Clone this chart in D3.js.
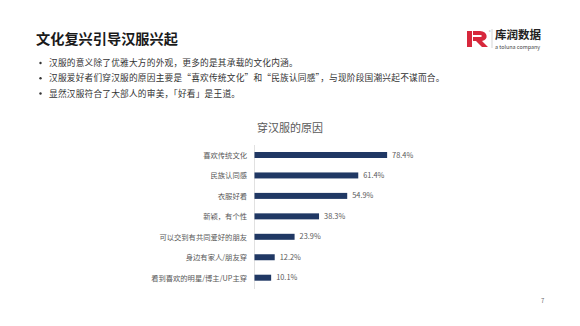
<!DOCTYPE html>
<html><head><meta charset="utf-8">
<script src="https://cdn.jsdelivr.net/npm/d3@7"></script>
<style>
html,body{margin:0;padding:0;background:#fff;}
svg{display:block;font-family:"Noto Sans CJK SC","Noto Sans",sans-serif;}
</style></head>
<body>
<svg id="c" width="580" height="326"></svg>
<script>
const pageTitle = "文化复兴引导汉服兴起";
const bullets = [
  "汉服的意义除了优雅大方的外观，更多的是其承载的文化内涵。",
  "汉服爱好者们穿汉服的原因主要是“喜欢传统文化”和“民族认同感”，与现阶段国潮兴起不谋而合。",
  "显然汉服符合了大部人的审美，「好看」是王道。"
];
const chartTitle = "穿汉服的原因";
const categories = ["喜欢传统文化","民族认同感","衣服好看","新颖，有个性","可以交到有共同爱好的朋友","身边有家人/朋友穿","看到喜欢的明星/博主/UP主穿"];
const values = [78.4, 61.4, 54.9, 38.3, 23.9, 12.2, 10.1];

const svg = d3.select("#c");

// page title
svg.append("text").attr("x",36).attr("y",43.5).attr("font-size",14.2).attr("font-weight",700)
  .attr("fill","#1a1a1a").text(pageTitle);

// bullets
const by = d3.scalePoint().domain(d3.range(bullets.length)).range([63,93.5]);
bullets.forEach((b,i)=>{
  svg.append("circle").attr("cx",40.5).attr("cy",by(i)).attr("r",1.2).attr("fill","#333");
  svg.append("text").attr("x",49).attr("y",by(i)).attr("dy","0.35em").attr("font-size",8.7)
    .attr("letter-spacing",0.2).attr("fill","#333").text(b);
});

// logo
const lg = svg.append("g");
lg.append("path").attr("d","M467,31 L472,31 L472,47 L467,47 Z").attr("fill","#d7283c");
lg.append("path").attr("d","M473,31 L480,31 C488,31 489,40 482,41 L488,47 L482,47 L476,41 L473,41 L473,37 L479,37 C483,37 483,35 479,35 L473,35 Z").attr("fill","#d7283c");
lg.append("text").attr("x",489).attr("y",33).attr("font-size",3).attr("fill","#999").text("®");
lg.append("line").attr("x1",492).attr("x2",492).attr("y1",29).attr("y2",48).attr("stroke","#bbb").attr("stroke-width",0.6);
lg.append("text").attr("x",495).attr("y",39).attr("font-size",11.5).attr("font-weight",700).attr("fill","#222").text("库润数据");
lg.append("text").attr("x",495).attr("y",48.5).attr("font-size",5.4).attr("fill","#444").text("a toluna company");

// chart title
svg.append("text").attr("x",290).attr("y",128).attr("dy","0.35em").attr("text-anchor","middle")
  .attr("font-size",11).attr("fill","#595959").text(chartTitle);

// scales
const x = d3.scaleLinear().domain([0,100]).range([254,423.8]);
const y = d3.scalePoint().domain(categories).range([155,277.7]);
const bh = 6;

svg.append("g").attr("transform","translate(254,0)")
  .call(d3.axisLeft(y).tickSize(0).tickPadding(7))
  .call(g=>{
    g.select(".domain").remove();
    g.selectAll("text").attr("font-size",7.3).attr("fill","#595959").attr("font-family","Noto Sans CJK SC");
  });
svg.append("line").attr("x1",254.5).attr("x2",254.5).attr("y1",145).attr("y2",289)
  .attr("stroke","#d9d9d9").attr("stroke-width",0.8);

svg.selectAll("rect.bar").data(values).enter().append("rect").attr("class","bar")
  .attr("x",x(0)+0.5).attr("y",(d,i)=>y(categories[i])-bh/2)
  .attr("width",d=>x(d)-x(0)-0.5).attr("height",bh).attr("fill","#203864");

svg.selectAll("text.val").data(values).enter().append("text").attr("class","val")
  .attr("x",d=>x(d)+5).attr("y",(d,i)=>y(categories[i])).attr("dy","0.35em")
  .attr("font-size",7.4).attr("fill","#595959").text(d=>d.toFixed(1)+"%");

// page number
svg.append("text").attr("x",541).attr("y",303).attr("font-size",6).attr("fill","#666").text("7");
</script>
</body></html>
